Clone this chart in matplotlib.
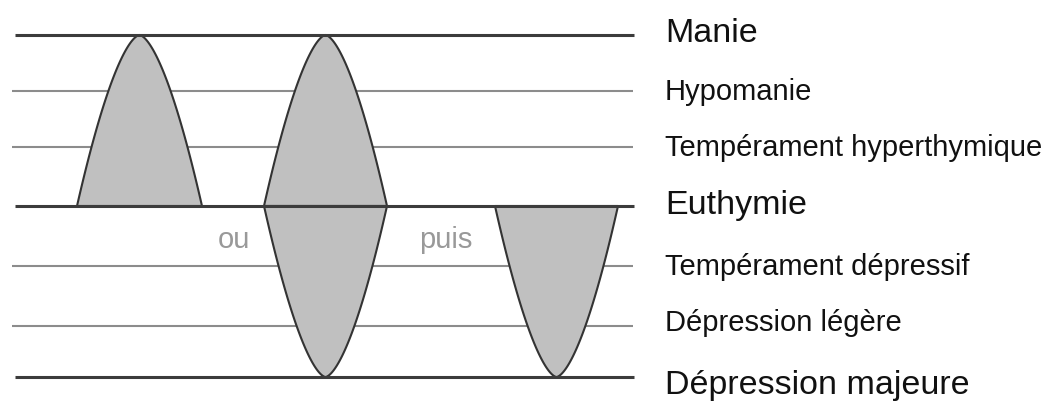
import numpy as np
import matplotlib
matplotlib.use("Agg")
import matplotlib.pyplot as plt

# Mood levels (top to bottom) and their vertical position (Euthymie = 0)
levels = ["Manie", "Hypomanie", "Tempérament hyperthymique", "Euthymie",
          "Tempérament dépressif", "Dépression légère", "Dépression majeure"]
level_y = [171, 115, 59, 0, -60, -120, -171]
level_major = [True, False, False, True, False, False, True]

# Mood episodes: start, end (time axis) and extreme level reached
episode_start = [77, 264, 264, 495]
episode_end = [202, 387, 387, 618]
episode_peak = [171, 171, -171, -171]

# Connector words between the scenarios
connector_words = ["ou", "puis"]
connector_x = [234, 446]
connector_y = [-34, -34]

W, H = 1051, 401
fig = plt.figure(figsize=(W / 100, H / 100), dpi=100)
ax = fig.add_axes([0, 0, 1, 1])
ax.set_xlim(0, W)
ax.set_ylim(-195, 206)
ax.axis("off")

FONT = "Liberation Sans"

# thin level lines (below episodes)
for y, major in zip(level_y, level_major):
    if not major:
        ax.plot([12, 633], [y, y], color="#8c8c8c", lw=1.5, zorder=1,
                solid_capstyle="butt")

# episodes
for x0, x1, peak in zip(episode_start, episode_end, episode_peak):
    t = np.linspace(-1, 1, 301)
    xs = x0 + (t + 1) / 2 * (x1 - x0)
    ys = peak * (1 - np.abs(t) ** 1.6)
    ax.fill(xs, ys, facecolor="#c0c0c0", edgecolor="#333333", lw=1.5,
            zorder=2, joinstyle="round")

# major level lines (above episodes)
for y, major in zip(level_y, level_major):
    if major:
        ax.plot([15, 634], [y, y], color="#3c3c3c", lw=2.2, zorder=3,
                solid_capstyle="butt")

# labels
label_baseline_offset = [-7, -9, -9, -8, -9, -5, -17]
for name, y, major, off in zip(levels, level_y, level_major, label_baseline_offset):
    ax.text(665, y + off, name, fontsize=24.5 if major else 21,
            family=FONT, color="#111111", ha="left", va="baseline", zorder=4)

for w, x, y in zip(connector_words, connector_x, connector_y):
    ax.text(x, y, w, fontsize=21, family=FONT, color="#999999",
            ha="center", va="center", zorder=4)

fig.savefig("out.png", dpi=100)
